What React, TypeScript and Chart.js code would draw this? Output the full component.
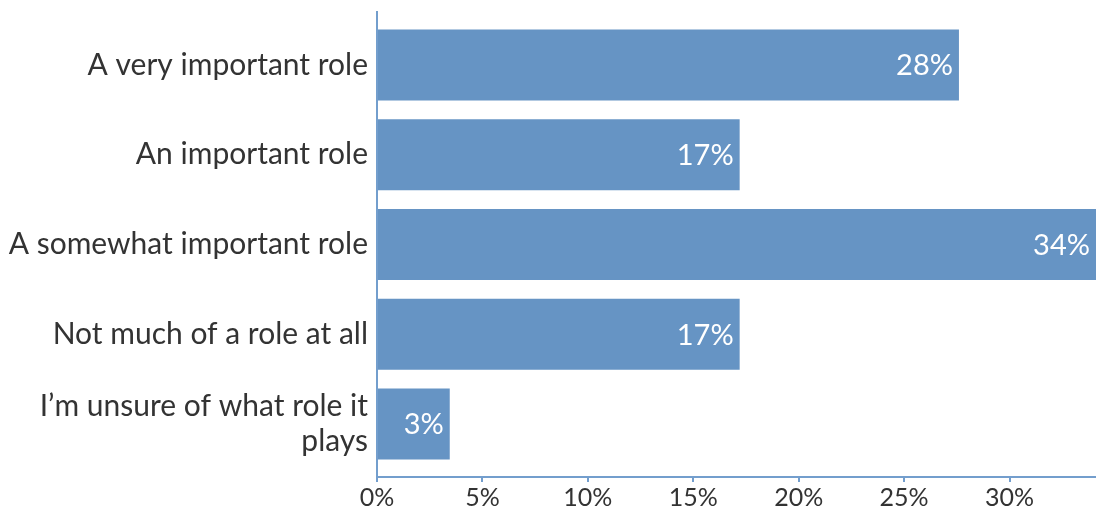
import React, { useEffect, useRef } from "react";
import { Chart, registerables } from "chart.js";

Chart.register(...registerables);

const categories: (string | string[])[] = [
  "A very important role",
  "An important role",
  "A somewhat important role",
  "Not much of a role at all",
  ["I\u2019m unsure of what role it", "plays"],
];
const values = [27.6, 17.2, 34.1, 17.2, 3.45];
const valueLabels = ["28%", "17%", "34%", "17%", "3%"];
const xTicks = [0, 5, 10, 15, 20, 25, 30];

const BAR = "#6694c4";
const AXIS = "#739ecd";
const FONT = "Lato";

const valueLabelPlugin = {
  id: "valueLabels",
  afterDatasetsDraw(chart: any) {
    const { ctx } = chart;
    const meta = chart.getDatasetMeta(0);
    ctx.save();
    ctx.fillStyle = "#ffffff";
    ctx.font = `29px ${FONT}`;
    ctx.textAlign = "right";
    ctx.textBaseline = "middle";
    meta.data.forEach((bar: any, i: number) => {
      ctx.fillText(valueLabels[i], bar.x - 6, bar.y + 1);
    });
    ctx.restore();
  },
};

export default function App() {
  const ref = useRef<HTMLCanvasElement>(null);
  useEffect(() => {
    document.body.style.margin = "0";
    const chart = new Chart(ref.current!, {
      type: "bar",
      data: {
        datasets: [
          {
            data: values.map((v, i) => ({ x: v, y: i })),
            backgroundColor: BAR,
            borderWidth: 0,
            barPercentage: 0.79,
            categoryPercentage: 1,
          },
        ],
      },
      options: {
        indexAxis: "y",
        animation: false,
        responsive: false,
        layout: { padding: { top: 12, right: 0, left: 0, bottom: 0 } },
        plugins: { legend: { display: false }, tooltip: { enabled: false } },
        scales: {
          x: {
            type: "linear",
            min: 0,
            max: 34.1,
            afterBuildTicks: (s: any) => {
              s.ticks = xTicks.map((v) => ({ value: v }));
            },
            afterFit: (s: any) => {
              s.height = 33;
              s.paddingLeft = 0;
              s.paddingRight = 0;
            },
            ticks: {
              callback: (v: any) => `${v}%`,
              color: "#333333",
              font: { family: FONT, size: 25 },
              padding: 1,
              maxRotation: 0,
            },
            grid: {
              display: true,
              drawOnChartArea: false,
              drawTicks: true,
              tickLength: 5,
              color: AXIS,
              lineWidth: 2,
            },
            border: { display: true, color: AXIS, width: 2 },
          },
          y: {
            type: "linear",
            reverse: true,
            offset: false,
            min: -0.59,
            max: 4.59,
            afterBuildTicks: (s: any) => {
              s.ticks = categories.map((_, i) => ({ value: i }));
            },
            afterFit: (s: any) => {
              s.width = 377;
              s.paddingTop = 0;
              s.paddingBottom = 0;
            },
            ticks: {
              callback: (v: any) => categories[v as number] as any,
              color: "#333333",
              font: { family: FONT, size: 30, lineHeight: 1.18 },
              padding: 9,
            },
            grid: { display: false, drawTicks: false },
            border: { display: true, color: AXIS, width: 2 },
          },
        },
      },
      plugins: [valueLabelPlugin],
    });
    return () => chart.destroy();
  }, []);
  return (
    <div style={{ width: 1096, height: 510 }}>
      <canvas ref={ref} width={1096} height={510} />
    </div>
  );
}
